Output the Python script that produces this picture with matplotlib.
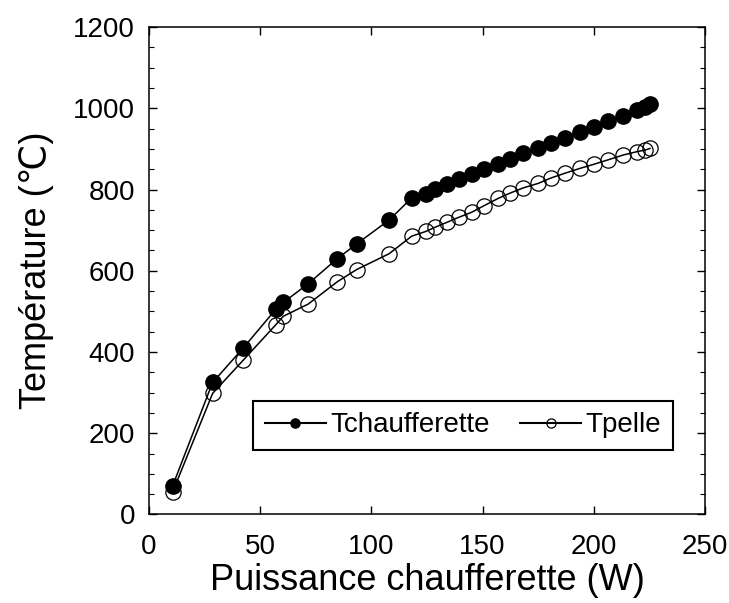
import matplotlib.pyplot as plt
from matplotlib.ticker import MultipleLocator

plt.rcParams['font.family'] = ['Liberation Sans', 'DejaVu Sans']

# puissance (W)
puissance = [10.6, 28.6, 42.4, 57.0, 60.4, 71.6, 84.7, 93.4, 108.0, 118.1,
             124.6, 128.6, 133.9, 139.5, 145.1, 150.6, 157.0, 162.3, 168.3, 175.0,
             180.6, 187.0, 193.8, 200.0, 206.4, 213.3, 219.3, 223.0, 225.3]
t_chauff = [70, 325, 410, 505, 522, 568, 630, 666, 725, 779,
            789, 802, 813, 826, 838, 850, 862, 876, 889, 903,
            914, 928, 942, 955, 969, 981, 995, 1002, 1010]
t_pelle = [55, 298, 380, 467, 488, 518, 573, 603, 642, 685,
           697, 707, 719, 732, 744, 760, 778, 791, 804, 815,
           828, 840, 852, 862, 873, 885, 893, 897, 901]

fig = plt.figure(figsize=(7.29, 6.03), dpi=100)
ax = fig.add_axes([0.2044, 0.1468, 0.7626, 0.8084])

ax.plot(puissance, t_chauff, '-o', color='black', mfc='black', mec='black',
        ms=11, lw=1.1, label='Tchaufferette')
ax.plot(puissance, t_pelle, '-o', color='black', mfc='none', mec='black',
        ms=11, mew=0.9, lw=1.1, label='Tpelle')

ax.set_xlim(0, 250)
ax.set_ylim(0, 1200)
ax.xaxis.set_major_locator(MultipleLocator(50))
ax.yaxis.set_major_locator(MultipleLocator(200))
ax.yaxis.set_minor_locator(MultipleLocator(50))
ax.tick_params(which='both', direction='in', top=True, right=True, labelsize=20)
ax.tick_params(which='major', length=6, width=1)
ax.tick_params(which='minor', length=3.5, width=0.8)
ax.tick_params(axis='x', pad=14)
ax.tick_params(axis='y', pad=10)
for s in ax.spines.values():
    s.set_linewidth(1.1)

ax.set_xlabel('Puissance chaufferette (W)', fontsize=26, labelpad=2)
ax.set_ylabel('Température (℃)', fontsize=26, labelpad=14)

leg = ax.legend(loc='lower left', bbox_to_anchor=(0.187, 0.132), ncol=2,
                fontsize=20, markerscale=0.6, handlelength=2.2,
                handletextpad=0.15, columnspacing=1.1, borderaxespad=0,
                fancybox=False, framealpha=1, borderpad=0.42)
leg.get_frame().set_edgecolor('black')
leg.get_frame().set_linewidth(1.5)
for ln in leg.get_lines():
    ln.set_linewidth(1.5)

fig.savefig('out.png', dpi=100)
